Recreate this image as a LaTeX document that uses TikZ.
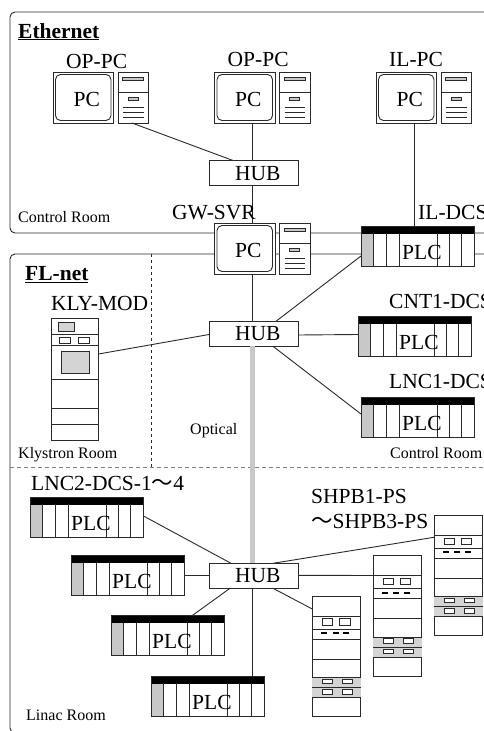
\documentclass[tikz,border=0pt]{standalone}
\usepackage{fontspec}
\setmainfont{Liberation Serif}
\newfontfamily\cjkfont{Noto Sans CJK JP}
\usetikzlibrary{calc}
\definecolor{ink}{HTML}{2A2A2A}
\definecolor{panel}{HTML}{C8C8C8}
\definecolor{band}{HTML}{D4D4D4}
\tikzset{
  ln/.style={draw=ink,line width=0.9pt},
  dev/.style={ln,fill=white,rectangle,inner sep=0pt,outer sep=0pt,anchor=north west},
  big/.style={inner sep=0pt,anchor=base west,text=black,font=\fontsize{21.5}{24}\selectfont},
  small/.style={inner sep=0pt,anchor=base west,text=black,font=\fontsize{16}{18}\selectfont},
  head/.style={inner sep=0pt,anchor=base west,text=black,font=\fontsize{21.5}{24}\selectfont\bfseries},
  link/.style={draw=ink,line width=0.9pt},
}
% name, x, y
\newcommand{\hubunit}[3]{%
  \node[dev,minimum width=89pt,minimum height=25pt] (#1) at (#2,#3) {};
  \node[big] (#1text) at (#2+26,#3+19.5) {HUB};
}
\newcommand{\pcunit}[3]{%
  \begin{scope}[shift={(#2,#3)}]
    \node[dev,minimum width=60.5pt,minimum height=51pt] (#1m) at (0,0) {};
    \draw[ln,rounded corners=5pt] (2.5,2.5) rectangle (58,48.5);
    \node[big] (#1text) at (20.5,34.5) {PC};
    \node[dev,minimum width=30.5pt,minimum height=51pt] (#1t) at (65,0) {};
    \draw[ln,fill=panel] (69.5,5) rectangle (90.5,8);
    \draw[ln] (65,20.5) -- (95.5,20.5);
    \draw[ln,fill=panel] (75,25) rectangle (85,28);
    \draw[ln] (70,35) -- (90.5,35) (70,40) -- (90.5,40) (70,45) -- (90.5,45);
  \end{scope}
}
\newcommand{\plcunit}[3]{%
  \begin{scope}[shift={(#2,#3)}]
    \node[dev,minimum width=113.5pt,minimum height=40pt] (#1) at (0,0) {};
    \fill[panel] (0,7) rectangle (12,40);
    \fill[black] (0,0) rectangle (113.5,7.5);
    \draw[ln] (0,0) rectangle (113.5,40);
    \foreach \d in {12,25.3,38,76,88,100.6}{\draw[ln] (\d,7) -- (\d,40);}
    \node[big] (#1text) at (41,33) {PLC};
  \end{scope}
}
\newcommand{\rackunit}[3]{%
  \begin{scope}[shift={(#2,#3)}]
    \node[dev,minimum width=48.5pt,minimum height=120.5pt] (#1) at (0,0) {};
    \fill[band] (0,81.5) rectangle (48.5,101.5);
    \foreach \d in {20,33,43,63,81.5,91.5,101.5}{\draw[ln] (0,\d) -- (48.5,\d);}
    \draw[ln] (10,22.7) rectangle (20,29.3) (27.3,22.7) rectangle (37.7,29.3);
    \draw[black,line width=2pt] (9,37) -- (15,37) (20.3,37) -- (26.3,37) (31,37) -- (37,37);
    \draw[ln,fill=white] (10,83) rectangle (20,87.5) (30.3,83) rectangle (40.3,87.5)
      (10,93.5) rectangle (20,98) (30.3,93.5) rectangle (40.3,98);
  \end{scope}
}
\begin{document}
\begin{tikzpicture}[x=1pt,y=-1pt]
\useasboundingbox (0,0) rectangle (484,731);
\fill[white] (0,0) rectangle (484,731);
% frames
\draw[ln,rounded corners=5pt] (490,12) -- (10,12) -- (10,233) -- (490,233);
\draw[ln,rounded corners=5pt] (490,254) -- (10,254) -- (10,733) -- (40,733);
% room separators
\coordinate (vtop) at (151,254);
\coordinate (vbot) at (151,467);
\coordinate (hleft) at (10,467.5);
\coordinate (hright) at (484,467.5);
\draw[draw=ink,line width=0.9pt,dash pattern=on 3pt off 3pt] (vtop) -- (vbot);
\draw[draw=gray,line width=0.7pt,dash pattern=on 4pt off 3pt] (hleft) -- (hright);

% devices
\pcunit{opa}{53}{72}
\pcunit{opb}{214.5}{72}
\pcunit{ilpc}{376}{72}
\pcunit{gw}{214.5}{223}
\hubunit{huba}{209}{160.5}
\hubunit{hubb}{209}{321.3}
\hubunit{hubc}{209}{563.3}
\plcunit{il}{361}{226}
\plcunit{cnt}{358}{316.7}
\plcunit{lnc}{361}{397}
\plcunit{pa}{30}{497.3}
\plcunit{pb}{71}{555.7}
\plcunit{pc}{111}{615.7}
\plcunit{pd}{151}{676.3}
\rackunit{ra}{312.3}{596}
\rackunit{rb}{373}{555.5}
\rackunit{rc}{434}{515.3}

% klystron modulator
\node[dev,minimum width=47.5pt,minimum height=121.3pt] (kly) at (51,318.7) {};
\foreach \d in {334.3,345.7,379.7,408.7,424.7}{\draw[ln] (51,\d) -- (98.5,\d);}
\draw[ln,fill=band] (58.3,322.7) rectangle (74,331.7);
\draw[ln] (59.3,337.3) rectangle (70,343.3) (78.3,337.3) rectangle (89,343.3);
\draw[ln,fill=band] (61,351) rectangle (89,373.7);

% optical trunk
\draw[draw=panel,line width=5pt] ([xshift=43pt]hubb.south west) -- ([xshift=43pt]hubc.north west);

% connectors
\draw[link] ([xshift=14pt]opat.south west) -- ([xshift=24pt]huba.north west);
\draw[link] ([xshift=37.5pt]opbm.south west) -- ([xshift=43pt]huba.north west);
\draw[link] ([xshift=43pt]huba.south west) -- ([xshift=37.5pt]gwm.north west);
\draw[link] ([xshift=38pt]ilpcm.south west) -- ([xshift=53pt]il.north west);
\draw[link] ([xshift=37.5pt]gwm.south west) -- ([xshift=43pt]hubb.north west);
\draw[link] ([xshift=67pt]hubb.north west) -- ([yshift=-30pt]il.north west);
\draw[link] ([yshift=-13.7pt]hubb.north east) -- ([yshift=-17.8pt]cnt.north west);
\draw[link] ([xshift=64pt]hubb.south west) -- ([yshift=-17pt]lnc.north west);
\draw[link] ([yshift=-35.3pt]kly.north east) -- ([yshift=-13.2pt]hubb.north west);
\draw[link] ([yshift=-18.7pt]pa.north east) -- ([xshift=22pt]hubc.north west);
\draw[link] ([yshift=-19.6pt]pb.north east) -- ([yshift=-12pt]hubc.north west);
\draw[link] ([xshift=81pt]pc.north west) -- ([xshift=21pt]hubc.south west);
\draw[link] ([xshift=43pt]hubc.south west) -- ([xshift=101pt]pd.north west);
\draw[link] ([xshift=64pt]hubc.north west) -- ([yshift=-22pt]rc.north west);
\draw[link] ([yshift=-12pt]hubc.north east) -- ([yshift=-20pt]rb.north west);
\draw[link] ([xshift=64pt]hubc.south west) -- ([yshift=-13pt]ra.north west);

% labels
\node[head] (lethernet) at (18,38) {\underline{Ethernet}};
\node[head] (lflnet) at (25,280.7) {\underline{FL-net}};
\node[big] (lopa) at (66,68) {OP-PC};
\node[big] (lopb) at (227.5,66) {OP-PC};
\node[big] (lilpc) at (389,66) {IL-PC};
\node[big] (lgw) at (172,219) {GW-SVR};
\node[big] (lil) at (418,219) {IL-DCS};
\node[big] (lcnt) at (389,308) {CNT1-DCS};
\node[big] (llnc) at (389,388) {LNC1-DCS};
\node[big] (lkly) at (51,310.7) {KLY-MOD};
\node[big] (lpa) at (31,490.7) {LNC2-DCS-1{\cjkfont ～}4};
\node[big] (lra) at (311,503) {SHPB1-PS};
\node[big] (lrc) at (311,528.7) {{\cjkfont ～}SHPB3-PS};
\node[small] (rmctl) at (18,222.7) {Control Room};
\node[small] (rmkly) at (18,458.7) {Klystron Room};
\node[small] (rmopt) at (190,434) {Optical};
\node[small] (rmctb) at (390,458.7) {Control Room};
\node[small] (rmlin) at (26,720.7) {Linac Room};
\end{tikzpicture}
\end{document}
